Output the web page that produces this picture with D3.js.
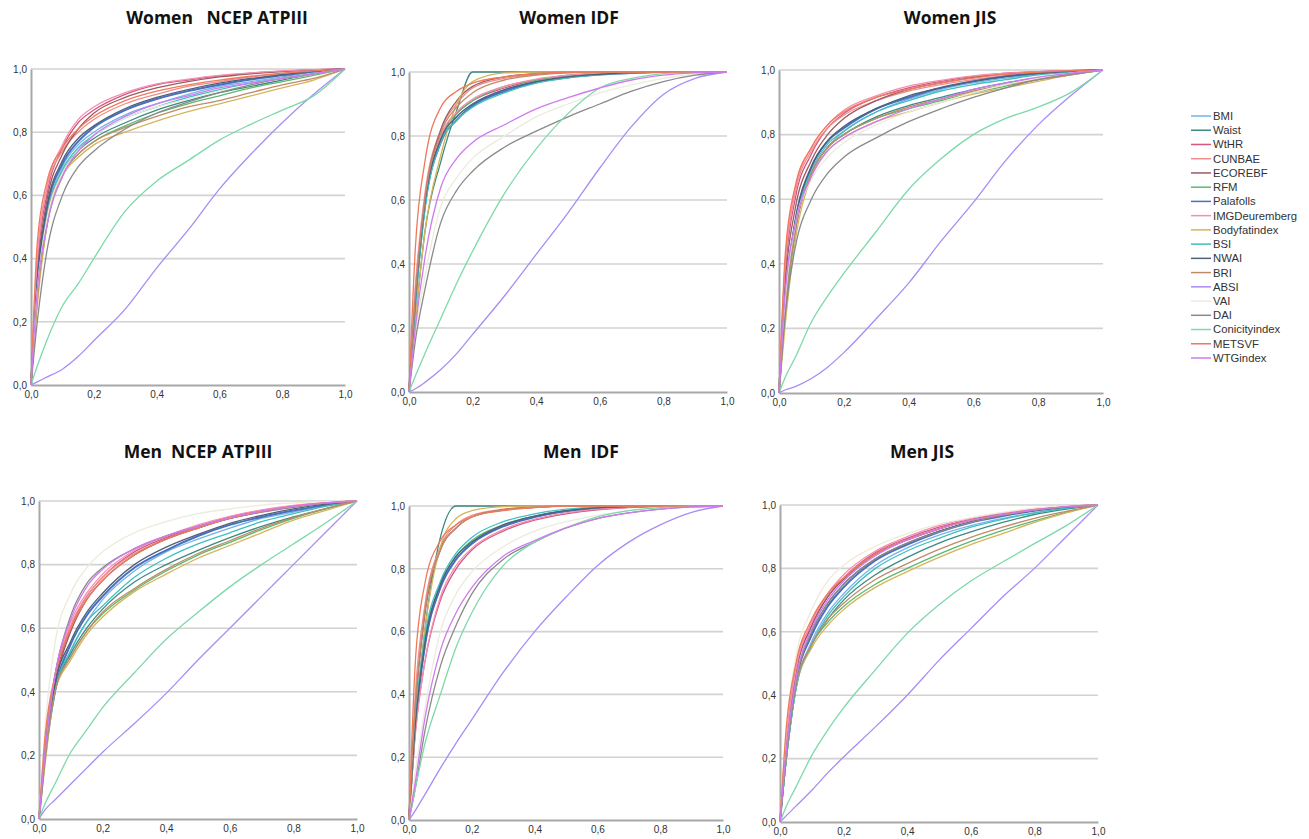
<!DOCTYPE html>
<html>
<head>
  <meta charset="utf-8">
  <title>ROC curves</title>
  <script src="https://d3js.org/d3.v7.min.js"></script>
  <style>
    body { margin: 0; background: #fff; }
    text { font-family: "Liberation Sans", Arial, sans-serif; }
    .title { font-family: "Open Sans", sans-serif; font-weight: bold; font-size: 17.5px; fill: #111; white-space: pre; }
    .tick text { font-size: 10px; fill: #333; }
    .legend text { font-size: 11.3px; fill: #333; }
  </style>
</head>
<body>
<div id="chart"></div>
<script>
  // False positive rate (1 - specificity) at which each curve is read.
  const fpr = [0, 0.02, 0.05, 0.1, 0.15, 0.2, 0.3, 0.4, 0.5, 0.6, 0.7, 0.8, 0.9, 1];

  const seriesNames = ["BMI", "Waist", "WtHR", "CUNBAE", "ECOREBF", "RFM", "Palafolls", "IMGDeuremberg",
    "Bodyfatindex", "BSI", "NWAI", "BRI", "ABSI", "VAI", "DAI", "Conicityindex", "METSVF", "WTGindex"];

  const panelTitles = ["Women   NCEP ATPIII", "Women IDF", "Women JIS", "Men  NCEP ATPIII", "Men  IDF", "Men JIS"];

  // Sensitivity, one row per series (same order as seriesNames).
  const womenNCEP = [
    [0, .30, .53, .69, .76, .80, .855, .89, .92, .945, .96, .975, .99, 1],
    [0, .28, .50, .67, .74, .78, .83, .87, .90, .925, .945, .965, .985, 1],
    [0, .38, .60, .75, .83, .87, .92, .95, .965, .978, .987, .993, .997, 1],
    [0, .40, .62, .74, .80, .84, .89, .92, .945, .96, .975, .985, .993, 1],
    [0, .35, .58, .73, .81, .86, .91, .94, .96, .975, .985, .992, .997, 1],
    [0, .27, .50, .66, .73, .77, .82, .86, .89, .915, .94, .96, .98, 1],
    [0, .32, .55, .70, .77, .815, .87, .905, .93, .95, .967, .98, .992, 1],
    [0, .40, .62, .76, .84, .88, .925, .953, .968, .98, .988, .994, .998, 1],
    [0, .25, .50, .66, .72, .76, .80, .835, .865, .89, .915, .94, .965, 1],
    [0, .30, .53, .68, .75, .79, .845, .88, .91, .935, .955, .97, .985, 1],
    [0, .33, .56, .71, .78, .82, .875, .91, .935, .955, .97, .982, .993, 1],
    [0, .27, .52, .67, .73, .77, .815, .85, .88, .90, .925, .95, .97, 1],
    [0, .01, .025, .05, .09, .14, .24, .37, .49, .62, .73, .83, .92, 1],
    [0, .30, .52, .67, .74, .79, .845, .88, .905, .93, .95, .97, .985, 1],
    [0, .20, .42, .60, .69, .74, .81, .86, .895, .925, .95, .97, .985, 1],
    [0, .06, .14, .25, .32, .40, .55, .645, .71, .775, .825, .87, .915, 1],
    [0, .45, .64, .75, .81, .85, .90, .93, .95, .965, .977, .987, .994, 1],
    [0, .30, .50, .66, .74, .79, .85, .89, .915, .94, .955, .97, .985, 1]
  ];

  const womenIDF = [
    [0, .28, .58, .79, .86, .90, .945, .97, .984, .992, .997, 1, 1, 1],
    [0, .22, .50, .72, .88, 1, 1, 1, 1, 1, 1, 1, 1, 1],
    [0, .30, .60, .80, .87, .91, .95, .975, .988, .995, .998, 1, 1, 1],
    [0, .33, .62, .82, .90, .95, .98, .992, .998, 1, 1, 1, 1, 1],
    [0, .30, .60, .82, .91, .955, .985, .995, 1, 1, 1, 1, 1, 1],
    [0, .28, .58, .79, .87, .91, .955, .975, .99, .996, 1, 1, 1, 1],
    [0, .28, .58, .78, .85, .895, .94, .968, .983, .992, .997, 1, 1, 1],
    [0, .32, .60, .80, .875, .915, .955, .978, .99, .996, .999, 1, 1, 1],
    [0, .22, .50, .74, .90, .97, .997, 1, 1, 1, 1, 1, 1, 1],
    [0, .27, .57, .78, .85, .89, .935, .965, .982, .992, .997, 1, 1, 1],
    [0, .29, .59, .79, .86, .90, .945, .97, .985, .993, .998, 1, 1, 1],
    [0, .30, .60, .81, .89, .935, .975, .99, .997, 1, 1, 1, 1, 1],
    [0, .01, .03, .07, .12, .18, .30, .43, .56, .70, .83, .93, .98, 1],
    [0, .18, .36, .58, .67, .73, .80, .86, .90, .935, .96, .98, .993, 1],
    [0, .16, .32, .53, .63, .69, .765, .815, .86, .90, .94, .97, .99, 1],
    [0, .05, .12, .23, .34, .44, .62, .76, .87, .95, .98, .995, 1, 1],
    [0, .45, .72, .89, .94, .965, .985, .995, 1, 1, 1, 1, 1, 1],
    [0, .20, .42, .64, .73, .78, .835, .885, .92, .95, .975, .99, .997, 1]
  ];

  const womenJIS = [
    [0, .25, .50, .68, .76, .81, .87, .91, .94, .96, .975, .987, .995, 1],
    [0, .25, .50, .68, .76, .80, .855, .89, .915, .94, .96, .975, .99, 1],
    [0, .38, .60, .74, .82, .865, .915, .945, .965, .98, .99, .995, .998, 1],
    [0, .40, .62, .75, .82, .86, .905, .935, .955, .97, .983, .992, .997, 1],
    [0, .35, .57, .72, .80, .85, .905, .94, .96, .977, .988, .994, .998, 1],
    [0, .25, .50, .68, .76, .80, .85, .88, .905, .93, .95, .97, .985, 1],
    [0, .30, .53, .70, .78, .82, .88, .915, .945, .965, .98, .99, .996, 1],
    [0, .42, .63, .76, .83, .875, .92, .95, .968, .982, .99, .995, .998, 1],
    [0, .22, .47, .67, .75, .79, .84, .87, .90, .925, .945, .965, .985, 1],
    [0, .28, .52, .69, .77, .81, .87, .905, .935, .955, .97, .985, .993, 1],
    [0, .30, .53, .70, .78, .825, .88, .92, .945, .965, .98, .99, .996, 1],
    [0, .27, .50, .68, .76, .80, .85, .885, .91, .935, .955, .97, .985, 1],
    [0, .01, .02, .045, .08, .125, .23, .34, .47, .59, .72, .83, .92, 1],
    [0, .30, .52, .66, .73, .775, .83, .87, .90, .93, .955, .975, .99, 1],
    [0, .25, .45, .60, .68, .73, .79, .84, .88, .915, .945, .97, .987, 1],
    [0, .05, .11, .22, .30, .37, .50, .63, .725, .80, .85, .885, .93, 1],
    [0, .44, .64, .76, .83, .87, .915, .94, .96, .975, .987, .993, .997, 1],
    [0, .32, .52, .67, .75, .79, .84, .88, .91, .94, .96, .978, .99, 1]
  ];

  const menNCEP = [
    [0, .20, .40, .53, .62, .69, .78, .84, .88, .915, .945, .965, .985, 1],
    [0, .20, .40, .52, .60, .66, .745, .80, .845, .885, .92, .95, .975, 1],
    [0, .22, .43, .60, .70, .76, .84, .885, .92, .95, .97, .985, .995, 1],
    [0, .25, .45, .61, .70, .76, .835, .88, .915, .945, .967, .983, .994, 1],
    [0, .22, .42, .59, .69, .75, .83, .88, .915, .945, .966, .982, .993, 1],
    [0, .20, .40, .51, .59, .645, .72, .78, .83, .87, .91, .945, .975, 1],
    [0, .20, .40, .55, .64, .70, .79, .845, .89, .925, .95, .97, .987, 1],
    [0, .24, .45, .62, .71, .77, .845, .89, .925, .952, .972, .986, .995, 1],
    [0, .18, .40, .50, .58, .635, .715, .77, .82, .86, .90, .94, .97, 1],
    [0, .20, .40, .53, .62, .67, .76, .82, .865, .90, .935, .96, .983, 1],
    [0, .21, .42, .56, .65, .71, .80, .855, .895, .93, .955, .975, .99, 1],
    [0, .20, .40, .51, .59, .65, .725, .785, .835, .875, .915, .948, .976, 1],
    [0, .03, .06, .11, .16, .21, .30, .395, .50, .60, .70, .80, .90, 1],
    [0, .30, .55, .71, .79, .84, .90, .935, .96, .975, .987, .994, .998, 1],
    [0, .23, .45, .64, .74, .79, .85, .89, .92, .945, .965, .98, .993, 1],
    [0, .05, .11, .21, .28, .35, .46, .565, .65, .73, .80, .865, .93, 1],
    [0, .27, .45, .60, .69, .75, .83, .88, .915, .945, .967, .983, .994, 1],
    [0, .22, .45, .63, .73, .785, .85, .89, .92, .948, .968, .983, .994, 1]
  ];

  const menIDF = [
    [0, .30, .55, .74, .83, .88, .935, .965, .983, .993, .998, 1, 1, 1],
    [0, .30, .60, .90, 1, 1, 1, 1, 1, 1, 1, 1, 1, 1],
    [0, .28, .50, .70, .80, .86, .92, .955, .975, .988, .995, .999, 1, 1],
    [0, .40, .68, .87, .94, .97, .99, .997, 1, 1, 1, 1, 1, 1],
    [0, .35, .65, .86, .93, .965, .988, .996, 1, 1, 1, 1, 1, 1],
    [0, .30, .56, .75, .84, .89, .94, .968, .985, .994, .998, 1, 1, 1],
    [0, .30, .55, .74, .83, .88, .935, .965, .983, .993, .998, 1, 1, 1],
    [0, .27, .50, .71, .81, .865, .925, .958, .978, .99, .996, 1, 1, 1],
    [0, .30, .60, .87, .96, .985, .998, 1, 1, 1, 1, 1, 1, 1],
    [0, .32, .58, .76, .85, .90, .95, .975, .99, .996, 1, 1, 1, 1],
    [0, .30, .56, .75, .84, .885, .94, .968, .985, .994, .998, 1, 1, 1],
    [0, .36, .66, .86, .93, .965, .988, .996, 1, 1, 1, 1, 1, 1],
    [0, .03, .08, .165, .245, .32, .47, .60, .71, .81, .885, .94, .98, 1],
    [0, .15, .35, .60, .72, .79, .87, .92, .95, .97, .985, .995, 1, 1],
    [0, .10, .28, .49, .62, .72, .83, .885, .93, .96, .978, .99, .997, 1],
    [0, .10, .24, .40, .55, .66, .81, .885, .93, .965, .985, .995, 1, 1],
    [0, .50, .75, .89, .94, .965, .985, .995, 1, 1, 1, 1, 1, 1],
    [0, .12, .32, .54, .66, .74, .84, .89, .93, .96, .978, .99, .997, 1]
  ];

  const menJIS = [
    [0, .20, .42, .57, .66, .72, .81, .865, .905, .935, .958, .975, .99, 1],
    [0, .20, .42, .56, .64, .70, .78, .835, .88, .915, .945, .97, .987, 1],
    [0, .25, .47, .62, .71, .77, .85, .895, .93, .955, .973, .987, .995, 1],
    [0, .28, .49, .63, .72, .77, .845, .89, .925, .952, .971, .985, .995, 1],
    [0, .25, .47, .62, .71, .765, .845, .89, .925, .952, .971, .985, .995, 1],
    [0, .20, .42, .56, .63, .68, .75, .80, .845, .885, .92, .95, .977, 1],
    [0, .22, .44, .59, .68, .74, .825, .875, .915, .945, .965, .982, .993, 1],
    [0, .26, .48, .63, .72, .78, .855, .90, .935, .958, .975, .988, .996, 1],
    [0, .20, .42, .55, .62, .67, .74, .79, .835, .875, .91, .945, .975, 1],
    [0, .20, .42, .56, .65, .71, .80, .855, .895, .93, .955, .975, .99, 1],
    [0, .22, .44, .60, .69, .75, .83, .88, .918, .947, .967, .983, .994, 1],
    [0, .21, .43, .56, .64, .69, .765, .815, .86, .898, .93, .958, .98, 1],
    [0, .02, .05, .10, .155, .205, .30, .40, .51, .61, .71, .80, .90, 1],
    [0, .30, .52, .67, .76, .81, .87, .91, .94, .96, .977, .99, .997, 1],
    [0, .22, .44, .60, .69, .75, .83, .88, .915, .945, .967, .983, .994, 1],
    [0, .05, .11, .21, .29, .36, .48, .595, .685, .76, .82, .878, .935, 1],
    [0, .30, .50, .64, .72, .77, .845, .89, .925, .952, .97, .985, .995, 1],
    [0, .23, .45, .61, .70, .76, .84, .89, .925, .952, .97, .985, .995, 1]
  ];

  const panelData = [womenNCEP, womenIDF, womenJIS, menNCEP, menIDF, menJIS];
  const tickValues = [0, 0.2, 0.4, 0.6, 0.8, 1];

  // Styling (SPSS-like palette) kept apart from the data.
  const seriesColors = ["#74b4e8", "#3d8a80", "#d4577e", "#f28b8b", "#9c5a62", "#5cb870", "#4a6fc0", "#f58fb0",
    "#d6b45a", "#3fbfbf", "#4f6177", "#c08a6a", "#a98cf5", "#ecebdc", "#8a8a8a", "#7cd9a8", "#ef7a5a", "#d07af0"];

  // Plot area of each panel and the centre of its title.
  const layout = [
    {left: 31, right: 345, top: 69, bottom: 385, tx: 217, ty: 24},
    {left: 409, right: 727, top: 72, bottom: 392, tx: 569, ty: 24},
    {left: 779, right: 1103, top: 70, bottom: 393, tx: 950, ty: 24},
    {left: 39, right: 357, top: 501, bottom: 819, tx: 198, ty: 458},
    {left: 409, right: 723, top: 506, bottom: 820, tx: 581, ty: 458},
    {left: 780, right: 1098, top: 505, bottom: 822, tx: 922, ty: 458}
  ];

  const comma = d3.formatLocale({decimal: ",", thousands: ".", grouping: [3], currency: ["", ""]}).format(".1f");

  const svg = d3.select("#chart").append("svg")
    .attr("width", 1309)
    .attr("height", 839);

  panelData.forEach((rows, p) => {
    const L = layout[p];
    const x = d3.scaleLinear().domain([0, 1]).range([L.left, L.right]);
    const y = d3.scaleLinear().domain([0, 1]).range([L.bottom, L.top]);
    const g = svg.append("g");

    // Title
    svg.append("text")
      .attr("class", "title")
      .attr("x", L.tx)
      .attr("y", L.ty)
      .attr("text-anchor", "middle")
      .text(panelTitles[p]);

    // Horizontal gridlines
    g.selectAll(".grid")
      .data(tickValues.slice(1))
      .enter().append("line")
      .attr("x1", L.left).attr("x2", L.right)
      .attr("y1", d => y(d)).attr("y2", d => y(d))
      .attr("stroke", "#d2d2d2")
      .attr("stroke-width", 1.6);

    // Axes
    const yAxis = g.append("g")
      .attr("transform", "translate(" + L.left + ",0)")
      .call(d3.axisLeft(y).tickValues(tickValues).tickFormat(comma).tickSize(0).tickSizeOuter(0).tickPadding(4));
    const xAxis = g.append("g")
      .attr("transform", "translate(0," + L.bottom + ")")
      .call(d3.axisBottom(x).tickValues(tickValues).tickFormat(comma).tickSize(0).tickSizeOuter(0).tickPadding(6));
    [yAxis, xAxis].forEach(a => {
      a.select(".domain").attr("stroke", "#a8a8a8").attr("stroke-width", 2);
      a.selectAll("text").attr("font-family", "'Liberation Sans', Arial, sans-serif");
    });

    // ROC curves
    const line = d3.line()
      .x((d, i) => x(fpr[i]))
      .y(d => y(d))
      .curve(d3.curveMonotoneX);

    g.selectAll(".roc")
      .data(rows)
      .enter().append("path")
      .attr("fill", "none")
      .attr("stroke", (d, i) => seriesColors[i])
      .attr("stroke-width", (d, i) => seriesNames[i] === "Palafolls" ? 2 : 1.3)
      .attr("d", line);
  });

  // Legend
  const legendY = d3.scaleLinear().domain([0, seriesNames.length - 1]).range([116, 358]);
  const legend = svg.append("g").attr("class", "legend");
  const item = legend.selectAll("g")
    .data(seriesNames)
    .enter().append("g")
    .attr("transform", (d, i) => "translate(1191," + legendY(i) + ")");
  item.append("line")
    .attr("x1", 0).attr("x2", 20)
    .attr("stroke", (d, i) => seriesColors[i])
    .attr("stroke-width", 1.5);
  item.append("text")
    .attr("x", 22)
    .attr("dy", "0.35em")
    .text(d => d);
</script>
</body>
</html>
